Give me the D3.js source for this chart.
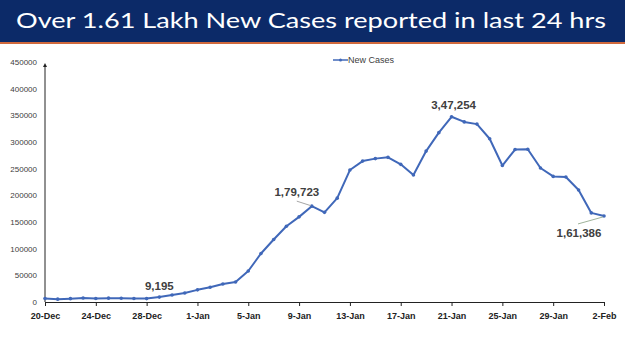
<!DOCTYPE html>
<html>
<head>
<meta charset="utf-8">
<script src="https://cdn.jsdelivr.net/npm/d3@7"></script>
<style>
  body { margin: 0; background: #ffffff; }
  svg { display: block; }
</style>
</head>
<body>
<svg id="chart" width="625" height="351"></svg>
<script>
// daily new cases, 20-Dec to 2-Feb
var days = ["20-Dec","21-Dec","22-Dec","23-Dec","24-Dec","25-Dec","26-Dec","27-Dec","28-Dec","29-Dec","30-Dec","31-Dec",
    "1-Jan","2-Jan","3-Jan","4-Jan","5-Jan","6-Jan","7-Jan","8-Jan","9-Jan","10-Jan","11-Jan","12-Jan","13-Jan","14-Jan",
    "15-Jan","16-Jan","17-Jan","18-Jan","19-Jan","20-Jan","21-Jan","22-Jan","23-Jan","24-Jan","25-Jan","26-Jan","27-Jan",
    "28-Jan","29-Jan","30-Jan","31-Jan","1-Feb","2-Feb"]
var newCases = [6563, 5326, 6317, 7495, 6650, 7189, 6987, 6531, 6358, 9195, 13154, 16764,
    22775, 27553, 33750, 37379, 58097, 90928, 117100, 141986, 159632, 179723, 168063, 194720, 247417, 264202,
    268833, 271202, 258089, 238018, 282970, 317532, 347254, 337704, 333533, 306064, 255874, 285914, 286384,
    251209, 235532, 234281, 209918, 167059, 161386]
var tickLabels = ["20-Dec","24-Dec","28-Dec","1-Jan","5-Jan","9-Jan","13-Jan","17-Jan","21-Jan","25-Jan","29-Jan","2-Feb"]
var yTicks = [0, 50000, 100000, 150000, 200000, 250000, 300000, 350000, 400000, 450000]
var calloutDays = ["29-Dec", "10-Jan", "21-Jan", "2-Feb"]
var calloutTexts = ["9,195", "1,79,723", "3,47,254", "1,61,386"]

var titleText = "Over 1.61 Lakh New Cases reported in last 24 hrs"
var seriesName = "New Cases"

var lineColor = "#4068b9"
var textColor = "#404040"

const svg = d3.select("#chart")

// title banner
svg.append("rect").attr("x", 0).attr("y", 0).attr("width", 625).attr("height", 42).style("fill", "#0c2a68")
svg.append("rect").attr("x", 0).attr("y", 42).attr("width", 625).attr("height", 2).style("fill", "#d0693c")
svg.append("text")
    .attr("x", 16)
    .attr("y", 28)
    .attr("textLength", 590)
    .attr("lengthAdjust", "spacingAndGlyphs")
    .style("font-family", "Lato, 'Open Sans', sans-serif")
    .style("font-size", "22px")
    .style("fill", "#ffffff")
    .text(titleText)

let x = d3.scalePoint().domain(days).range([45, 604])
let y = d3.scaleLinear().domain([0, 450000]).range([302, 62])

// y axis labels
let yAxis = svg.append("g")
    .attr("transform", "translate(45,0)")
    .call(d3.axisLeft(y).tickValues(yTicks).tickSize(0).tickPadding(8).tickFormat(d3.format("d")))
yAxis.select(".domain").remove()
yAxis.selectAll("text")
    .style("font-family", "Arial, 'Liberation Sans', sans-serif")
    .style("font-size", "8px")
    .style("fill", textColor)

// y axis line with arrow
svg.append("defs").append("marker")
    .attr("id", "arrow")
    .attr("viewBox", "0 0 10 10")
    .attr("refX", 5).attr("refY", 5)
    .attr("markerWidth", 4).attr("markerHeight", 6)
    .attr("orient", "auto")
    .append("path")
    .attr("d", "M0,0 L10,5 L0,10 z")
    .style("fill", "#222")
svg.append("line")
    .attr("x1", 45).attr("x2", 45)
    .attr("y1", y(0)).attr("y2", y(450000) + 3)
    .style("stroke", "#222")
    .style("stroke-width", 1)
    .attr("marker-end", "url(#arrow)")

// x axis
let xAxis = svg.append("g")
    .attr("transform", `translate(0,${y(0)})`)
    .call(d3.axisBottom(x).tickValues(tickLabels).tickSize(4).tickSizeOuter(0).tickPadding(7))
xAxis.select(".domain").style("stroke", "#222").style("stroke-width", 1.2)
xAxis.selectAll("line").style("stroke", "#222")
xAxis.selectAll("text")
    .style("font-family", "Arial, 'Liberation Sans', sans-serif")
    .style("font-size", "9px")
    .style("font-weight", "bold")
    .style("fill", "#222")

// series line
let line = d3.line()
    .x((d, i) => x(days[i]))
    .y(d => y(d))

svg.append("path")
    .datum(newCases)
    .attr("d", line)
    .style("fill", "none")
    .style("stroke", lineColor)
    .style("stroke-width", 2)
    .style("stroke-linejoin", "round")

svg.append("g")
    .selectAll("circle")
    .data(newCases)
    .enter().append("circle")
    .attr("cx", (d, i) => x(days[i]))
    .attr("cy", d => y(d))
    .attr("r", 1.8)
    .style("fill", lineColor)

// legend
let legend = svg.append("g").attr("transform", "translate(333,60)")
legend.append("line").attr("x1", 0).attr("x2", 15).attr("y1", 0).attr("y2", 0)
    .style("stroke", lineColor).style("stroke-width", 1.5)
legend.append("circle").attr("cx", 7.5).attr("cy", 0).attr("r", 1.5).style("fill", lineColor)
legend.append("text")
    .attr("x", 15).attr("y", 3)
    .style("font-family", "Arial, 'Liberation Sans', sans-serif")
    .style("font-size", "9px")
    .style("fill", textColor)
    .text(seriesName)

// data callouts (offset from their point)
let calloutOffsets = [[0, -7], [-15, -10], [2, -8], [-25, 21]]
calloutDays.forEach((day, i) => {
    let px = x(day)
    let py = y(newCases[days.indexOf(day)])
    let dx = calloutOffsets[i][0]
    let dy = calloutOffsets[i][1]
    if (i == 1) {
        svg.append("line")
            .attr("x1", px + dx).attr("y1", py - 5)
            .attr("x2", px - 1).attr("y2", py - 0.5)
            .style("stroke", "#a6a6a6").style("stroke-width", 1)
    }
    if (i == 3) {
        svg.append("line")
            .attr("x1", px + dx - 1).attr("y1", py + 8)
            .attr("x2", px - 1).attr("y2", py + 1)
            .style("stroke", "#9fb39a").style("stroke-width", 1)
    }
    svg.append("text")
        .attr("x", px + dx)
        .attr("y", py + dy)
        .attr("text-anchor", "middle")
        .style("font-family", "Arial, 'Liberation Sans', sans-serif")
        .style("font-size", "11.5px")
        .style("font-weight", "bold")
        .style("fill", textColor)
        .text(calloutTexts[i])
})
</script>
</body>
</html>
